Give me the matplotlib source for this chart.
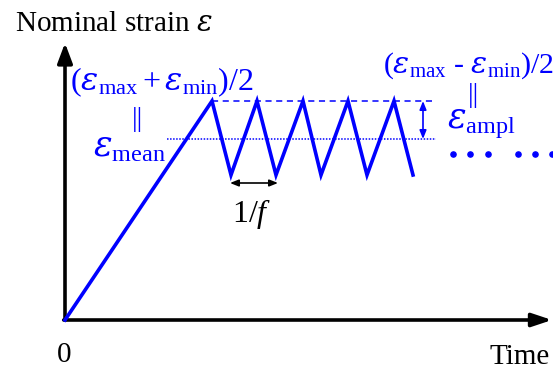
"""Schematic of a cyclic strain loading: ramp up, then triangle wave around a mean strain.
"""

import matplotlib
matplotlib.use('Agg')
import matplotlib.pyplot as plt

# time / strain in pixel-like units measured from the origin of the sketch
time_pts = [0, 147, 166, 192, 211, 238, 256, 283, 302, 329, 348]
strain_pts = [0, 219, 145, 219, 145, 219, 145, 219, 145, 219, 145]
strain_max = 219
strain_min = 145
strain_mean = 181
dots_time = [388, 405, 423, 453, 470, 487]
dots_strain = [166, 166, 166, 166, 166, 166]

blue = '#0000ff'

plt.rcParams['font.family'] = ['Liberation Serif', 'DejaVu Serif']
plt.rcParams['mathtext.fontset'] = 'custom'
plt.rcParams['mathtext.rm'] = 'Liberation Serif'
plt.rcParams['mathtext.it'] = 'Liberation Serif:italic'
plt.rcParams['mathtext.sf'] = 'DejaVu Serif:italic'   # used for the epsilons only

EPS = r'\mathsf{\varepsilon}'

fig = plt.figure(figsize=(5.53, 3.70), dpi=100)
ax = fig.add_axes([0, 0, 1, 1])
ax.set_xlim(-65, 488)
ax.set_ylim(-50, 320)
ax.axis('off')

# axes with arrow heads
ax.annotate('', xy=(0, 277), xytext=(0, 0),
            arrowprops=dict(arrowstyle='-|>,head_length=1.2,head_width=0.45', lw=2.6, color='k',
                            shrinkA=0, shrinkB=0))
ax.annotate('', xy=(487, 0), xytext=(-1.3, 0),
            arrowprops=dict(arrowstyle='-|>,head_length=1.2,head_width=0.4', lw=2.6, color='k',
                            shrinkA=0, shrinkB=0))

# strain history
ax.plot(time_pts, strain_pts, color=blue, lw=2.6, solid_joinstyle='miter', zorder=3)
ax.plot([147, 367], [strain_max, strain_max], color=blue, lw=1.1, ls=(0, (4, 3)))
ax.plot([102, 371], [strain_mean, strain_mean], color=blue, lw=1.1, ls=(0, (1, 1)))
ax.scatter(dots_time, dots_strain, s=14, color=blue, zorder=3)

# amplitude arrow and period arrow
ax.annotate('', xy=(358, strain_max), xytext=(358, strain_mean),
            arrowprops=dict(arrowstyle='<|-|>,head_length=0.5,head_width=0.2', lw=1.2, color=blue,
                            shrinkA=0, shrinkB=0))
ax.annotate('', xy=(165, 137), xytext=(213, 137),
            arrowprops=dict(arrowstyle='<|-|>,head_length=0.5,head_width=0.2', lw=1.2, color='k',
                            shrinkA=0, shrinkB=0))

# labels
ax.text(-50, 296, r'Nominal strain $%s$' % EPS, fontsize=21, va='center', ha='left')
ax.text(5, 238, r'($%s_{\rm max} + %s_{\rm min}$)/2' % (EPS, EPS), fontsize=23,
        color=blue, va='center', ha='left')
ax.text(73, 200, '||', fontsize=20, color=blue, va='center', ha='center')
ax.text(28, 172, r'$%s_{\rm mean}$' % EPS, fontsize=25, color=blue, va='center', ha='left')
ax.text(489, 254, r'($%s_{\rm max}$ - $%s_{\rm min}$)/2' % (EPS, EPS), fontsize=21.5,
        color=blue, va='center', ha='right')
ax.text(409, 225, '||', fontsize=20, color=blue, va='center', ha='center')
ax.text(382, 196, r'$%s_{\rm ampl}$' % EPS, fontsize=25, color=blue, va='center', ha='left')
ax.text(187, 106, r'1/$f$', fontsize=23, va='center', ha='center')
ax.text(-1, -35, '0', fontsize=21, va='center', ha='center')
ax.text(485, -37, 'Time', fontsize=21, va='center', ha='right')

fig.savefig('out.png', dpi=100)
